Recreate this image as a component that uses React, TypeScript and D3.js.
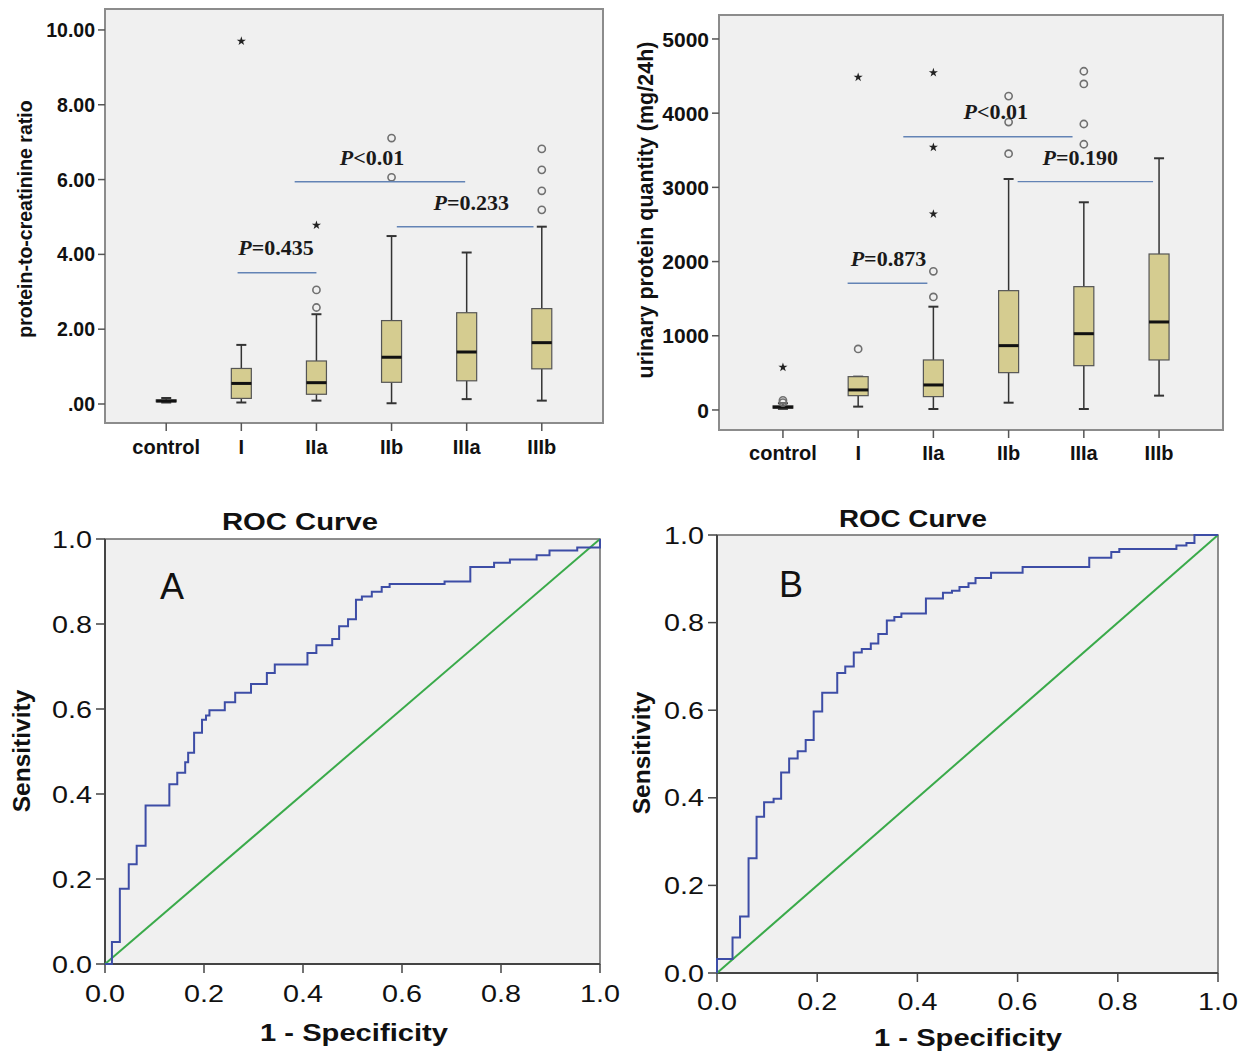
import React, { useEffect, useRef } from "react";
import * as d3 from "d3";

const categories = ["control", "I", "IIa", "IIb", "IIIa", "IIIb"];

// protein-to-creatinine ratio (top left)
const pcrLow = [0.04, 0.04, 0.09, 0.02, 0.13, 0.09];
const pcrQ1 = [0.06, 0.15, 0.26, 0.58, 0.62, 0.94];
const pcrMedian = [0.08, 0.55, 0.57, 1.25, 1.39, 1.64];
const pcrQ3 = [0.11, 0.95, 1.15, 2.23, 2.44, 2.55];
const pcrHigh = [0.16, 1.58, 2.4, 4.49, 4.05, 4.74];
const pcrOutliers = [[], [], [2.58, 3.05], [6.06, 7.11], [], [5.19, 5.7, 6.26, 6.82]];
const pcrExtremes = [[], [9.7], [4.78], [], [], []];
const pcrTicks = [0, 2, 4, 6, 8, 10];
const pcrTickLabels = [".00", "2.00", "4.00", "6.00", "8.00", "10.00"];
// [from index, to index, y of line, text x index, text y, label]
const pcrNotes = [
  [0.95, 2.0, 3.51, 0.96, 3.98, "=0.435"],
  [1.71, 3.98, 5.94, 2.31, 6.39, "<0.01"],
  [3.07, 4.89, 4.74, 3.56, 5.19, "=0.233"],
];

// urinary protein quantity (top right)
const upqLow = [15, 45, 13, 98, 13, 193];
const upqQ1 = [25, 193, 180, 503, 597, 674];
const upqMedian = [38, 270, 337, 867, 1028, 1186];
const upqQ3 = [55, 449, 674, 1608, 1662, 2102];
const upqHigh = [90, 449, 1392, 3113, 2799, 3392];
const upqOutliers = [[100, 130], [822], [1523, 1869], [3454, 3880, 4230], [3581, 3854, 4394, 4565], []];
const upqExtremes = [[575], [4484], [2641, 3540, 4546], [], [], []];
const upqTicks = [0, 1000, 2000, 3000, 4000, 5000];
const upqTickLabels = ["0", "1000", "2000", "3000", "4000", "5000"];
const upqNotes = [
  [0.86, 1.92, 1707, 0.9, 1941, "=0.873"],
  [1.6, 3.85, 3683, 2.4, 3922, "<0.01"],
  [3.12, 4.92, 3077, 3.45, 3302, "=0.190"],
];

// ROC curves (1 - specificity, sensitivity)
const rocAFpr = [0, 0.014, 0.03, 0.048, 0.064, 0.082, 0.13, 0.146, 0.162, 0.168, 0.18, 0.196, 0.204, 0.211, 0.242, 0.263, 0.295, 0.327, 0.343, 0.409, 0.427, 0.459, 0.473, 0.491, 0.507, 0.519, 0.539, 0.559, 0.575, 0.686, 0.738, 0.786, 0.818, 0.872, 0.898, 0.954, 1.0];
const rocATpr = [0, 0.052, 0.177, 0.235, 0.278, 0.373, 0.423, 0.45, 0.475, 0.497, 0.544, 0.575, 0.585, 0.597, 0.616, 0.638, 0.659, 0.685, 0.705, 0.732, 0.75, 0.765, 0.795, 0.811, 0.857, 0.865, 0.876, 0.887, 0.894, 0.9, 0.934, 0.944, 0.952, 0.962, 0.973, 0.98, 1.0];
const rocBFpr = [0, 0, 0.031, 0.046, 0.063, 0.079, 0.094, 0.113, 0.128, 0.144, 0.161, 0.177, 0.193, 0.21, 0.24, 0.256, 0.273, 0.289, 0.307, 0.322, 0.339, 0.354, 0.368, 0.417, 0.451, 0.469, 0.484, 0.502, 0.516, 0.547, 0.61, 0.743, 0.787, 0.803, 0.917, 0.937, 0.953, 1.0];
const rocBTpr = [0, 0.032, 0.081, 0.129, 0.262, 0.357, 0.39, 0.398, 0.458, 0.49, 0.506, 0.532, 0.597, 0.64, 0.685, 0.7, 0.732, 0.74, 0.752, 0.774, 0.805, 0.813, 0.821, 0.855, 0.868, 0.873, 0.881, 0.89, 0.902, 0.914, 0.927, 0.948, 0.961, 0.968, 0.976, 0.982, 1.0, 1.0];
const rocTicks = [0, 0.2, 0.4, 0.6, 0.8, 1.0];

const SANS = "'Liberation Sans', Arial, sans-serif";
const SERIF = "'Liberation Serif', 'Times New Roman', serif";
const BG = "#f0f0f0";

function drawBoxPanel(svg, p) {
  const g = svg.append("g");
  const x = d3.scalePoint().domain(categories).range([p.x0, p.x1]).padding(p.pad);
  const y = d3.scaleLinear().domain(p.domain).range([p.y1, p.y0]);
  const idx = d3.scaleLinear().domain([0, 5]).range([x("control"), x("IIIb")]);

  g.append("rect").attr("x", p.x0).attr("y", p.y0).attr("width", p.x1 - p.x0).attr("height", p.y1 - p.y0)
    .attr("fill", BG).attr("stroke", "#8c8c8c").attr("stroke-width", 2);

  // y axis
  p.ticks.forEach((t, i) => {
    g.append("line").attr("x1", p.x0 - 7).attr("x2", p.x0).attr("y1", y(t)).attr("y2", y(t)).attr("stroke", "#555").attr("stroke-width", 1.5);
    g.append("text").attr("x", p.x0 - 10).attr("y", y(t)).attr("dy", "0.36em").attr("text-anchor", "end")
      .attr("font-family", SANS).attr("font-weight", "bold").attr("font-size", p.tickSize).attr("fill", "#111").text(p.tickLabels[i]);
  });
  g.append("text").attr("transform", `translate(${p.titleX},${p.titleY}) rotate(-90)`).attr("text-anchor", "middle")
    .attr("font-family", SANS).attr("font-weight", "bold").attr("font-size", p.titleSize).attr("fill", "#111").text(p.title);

  // x axis
  categories.forEach((c) => {
    g.append("line").attr("x1", x(c)).attr("x2", x(c)).attr("y1", p.y1).attr("y2", p.y1 + 8).attr("stroke", "#555").attr("stroke-width", 1.5);
    g.append("text").attr("x", x(c)).attr("y", p.labelY).attr("text-anchor", "middle")
      .attr("font-family", SANS).attr("font-weight", "bold").attr("font-size", 20).attr("fill", "#111").text(c);
  });

  // boxes
  const bw = 20, cap = 10;
  categories.forEach((c, i) => {
    const cx = x(c);
    g.append("line").attr("x1", cx).attr("x2", cx).attr("y1", y(p.high[i])).attr("y2", y(p.q3[i])).attr("stroke", "#333").attr("stroke-width", 1.5);
    g.append("line").attr("x1", cx).attr("x2", cx).attr("y1", y(p.q1[i])).attr("y2", y(p.low[i])).attr("stroke", "#333").attr("stroke-width", 1.5);
    g.append("line").attr("x1", cx - cap / 2).attr("x2", cx + cap / 2).attr("y1", y(p.high[i])).attr("y2", y(p.high[i])).attr("stroke", "#333").attr("stroke-width", 2);
    g.append("line").attr("x1", cx - cap / 2).attr("x2", cx + cap / 2).attr("y1", y(p.low[i])).attr("y2", y(p.low[i])).attr("stroke", "#333").attr("stroke-width", 2);
    g.append("rect").attr("x", cx - bw / 2).attr("y", y(p.q3[i])).attr("width", bw).attr("height", Math.max(1, y(p.q1[i]) - y(p.q3[i])))
      .attr("fill", "#d5cc90").attr("stroke", "#555").attr("stroke-width", 1.2);
    g.append("line").attr("x1", cx - bw / 2).attr("x2", cx + bw / 2).attr("y1", y(p.median[i])).attr("y2", y(p.median[i])).attr("stroke", "#111").attr("stroke-width", 3);
    p.outliers[i].forEach((v) => {
      g.append("circle").attr("cx", cx).attr("cy", y(v)).attr("r", 3.6).attr("fill", "none").attr("stroke", "#707070").attr("stroke-width", 1.6);
    });
    p.extremes[i].forEach((v) => {
      g.append("path").attr("transform", `translate(${cx},${y(v)})`).attr("d", d3.symbol(d3.symbolStar, 26)()).attr("fill", "#222");
    });
  });

  // p-value notes
  p.notes.forEach(([a, b, ly, tx, ty, label]) => {
    g.append("line").attr("x1", idx(a)).attr("x2", idx(b)).attr("y1", y(ly)).attr("y2", y(ly)).attr("stroke", "#6383b5").attr("stroke-width", 1.4);
    const t = g.append("text").attr("x", idx(tx)).attr("y", y(ty)).attr("font-family", SERIF).attr("font-size", 22)
      .attr("font-weight", "bold").attr("fill", "#1a1a1a");
    t.append("tspan").attr("font-style", "italic").text("P");
    t.append("tspan").text(label);
  });
}

function drawRoc(svg, p) {
  const g = svg.append("g");
  const x = d3.scaleLinear().domain([0, 1]).range([p.x0, p.x1]);
  const y = d3.scaleLinear().domain([0, 1]).range([p.y1, p.y0]);

  g.append("rect").attr("x", p.x0).attr("y", p.y0).attr("width", p.x1 - p.x0).attr("height", p.y1 - p.y0)
    .attr("fill", BG).attr("stroke", "#6a6a6a").attr("stroke-width", 1.5);
  g.append("line").attr("x1", p.x0).attr("x2", p.x0).attr("y1", p.y0).attr("y2", p.y1).attr("stroke", "#444").attr("stroke-width", 2);
  g.append("line").attr("x1", p.x0).attr("x2", p.x1).attr("y1", p.y1).attr("y2", p.y1).attr("stroke", "#444").attr("stroke-width", 2);

  rocTicks.forEach((t) => {
    const lab = t.toFixed(1);
    g.append("line").attr("x1", p.x0 - 9).attr("x2", p.x0).attr("y1", y(t)).attr("y2", y(t)).attr("stroke", "#444").attr("stroke-width", 1.5);
    g.append("text").attr("x", p.x0 - 13).attr("y", y(t)).attr("dy", "0.36em").attr("text-anchor", "end")
      .attr("font-family", SANS).attr("font-size", 24).attr("textLength", 40).attr("lengthAdjust", "spacingAndGlyphs").attr("fill", "#111").text(lab);
    g.append("line").attr("x1", x(t)).attr("x2", x(t)).attr("y1", p.y1).attr("y2", p.y1 + 9).attr("stroke", "#444").attr("stroke-width", 1.5);
    g.append("text").attr("x", x(t)).attr("y", p.y1 + p.xLabOff).attr("text-anchor", "middle")
      .attr("font-family", SANS).attr("font-size", 24).attr("textLength", 40).attr("lengthAdjust", "spacingAndGlyphs").attr("fill", "#111").text(lab);
  });

  // reference diagonal
  g.append("line").attr("x1", x(0)).attr("y1", y(0)).attr("x2", x(1)).attr("y2", y(1)).attr("stroke", "#3aaa4a").attr("stroke-width", 2);
  const pts = p.fpr.map((f, i) => [f, p.tpr[i]]);
  const line = d3.line().x((d) => x(d[0])).y((d) => y(d[1])).curve(d3.curveStepAfter);
  g.append("path").attr("d", line(pts)).attr("fill", "none").attr("stroke", "#3d4da6").attr("stroke-width", 2);

  g.append("text").attr("x", p.titleX).attr("y", p.titleY).attr("font-family", SANS).attr("font-weight", "bold")
    .attr("font-size", 24).attr("textLength", p.titleW).attr("lengthAdjust", "spacingAndGlyphs").attr("fill", "#111").text("ROC Curve");
  g.append("text").attr("x", p.letterX).attr("y", p.letterY).attr("text-anchor", "middle").attr("font-family", SANS)
    .attr("font-size", 36).attr("fill", "#111").text(p.letter);
  g.append("text").attr("x", p.xtX).attr("y", p.xtY).attr("text-anchor", "middle").attr("font-family", SANS).attr("font-weight", "bold")
    .attr("font-size", 24.5).attr("textLength", 188).attr("lengthAdjust", "spacingAndGlyphs").attr("fill", "#111").text("1 - Specificity");
  g.append("text").attr("transform", `translate(${p.ytX},${p.ytY}) rotate(-90)`).attr("text-anchor", "middle")
    .attr("font-family", SANS).attr("font-weight", "bold").attr("font-size", 24.5).attr("fill", "#111").text("Sensitivity");
}

export default function App() {
  const ref = useRef(null);

  useEffect(() => {
    const svg = d3.select(ref.current);
    svg.selectAll("*").remove();

    drawBoxPanel(svg, {
      x0: 105, x1: 603, y0: 9, y1: 423, pad: 0.815, domain: [-0.508, 10.56],
      low: pcrLow, q1: pcrQ1, median: pcrMedian, q3: pcrQ3, high: pcrHigh,
      outliers: pcrOutliers, extremes: pcrExtremes, ticks: pcrTicks, tickLabels: pcrTickLabels, tickSize: 19.5,
      notes: pcrNotes, title: "protein-to-creatinine ratio", titleX: 32, titleY: 219, titleSize: 19.5, labelY: 454,
    });
    drawBoxPanel(svg, {
      x0: 719, x1: 1223, y0: 15, y1: 430, pad: 0.85, domain: [-270, 5323],
      low: upqLow, q1: upqQ1, median: upqMedian, q3: upqQ3, high: upqHigh,
      outliers: upqOutliers, extremes: upqExtremes, ticks: upqTicks, tickLabels: upqTickLabels, tickSize: 21,
      notes: upqNotes, title: "urinary protein quantity (mg/24h)", titleX: 653, titleY: 210, titleSize: 21.5, labelY: 460,
    });
    drawRoc(svg, {
      x0: 105, x1: 600, y0: 539, y1: 964, fpr: rocAFpr, tpr: rocATpr, xLabOff: 38,
      titleX: 222, titleY: 530, titleW: 156, letter: "A", letterX: 172, letterY: 599,
      xtX: 354, xtY: 1041, ytX: 30, ytY: 751,
    });
    drawRoc(svg, {
      x0: 717, x1: 1218, y0: 535, y1: 973, fpr: rocBFpr, tpr: rocBTpr, xLabOff: 37,
      titleX: 839, titleY: 527, titleW: 148, letter: "B", letterX: 791, letterY: 597,
      xtX: 968, xtY: 1046, ytX: 650, ytY: 753,
    });
  }, []);

  return (
    <svg ref={ref} width={1239} height={1055} style={{ position: "absolute", left: 0, top: 0, background: "#fff" }} />
  );
}
